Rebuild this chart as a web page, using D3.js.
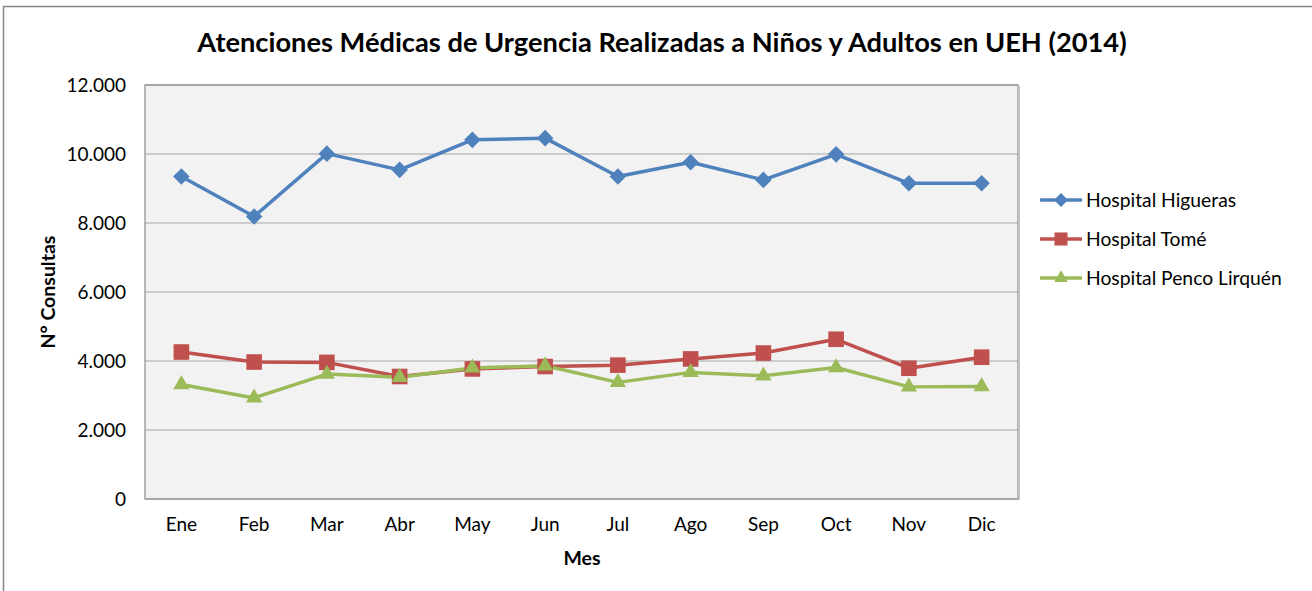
<!DOCTYPE html>
<html>
<head>
<meta charset="utf-8">
<script src="https://cdn.jsdelivr.net/npm/d3@7"></script>
<style>
  body { margin: 0; background: #fff; }
  svg { display: block; }
</style>
</head>
<body>
<div id="chart"></div>
<script>
// Data
const months = ["Ene", "Feb", "Mar", "Abr", "May", "Jun", "Jul", "Ago", "Sep", "Oct", "Nov", "Dic"];
const higueras = [9350, 8190, 10010, 9540, 10410, 10460, 9350, 9760, 9250, 9990, 9150, 9150];
const tome = [4260, 3970, 3960, 3550, 3770, 3840, 3880, 4060, 4230, 4630, 3790, 4110];
const penco = [3320, 2930, 3620, 3530, 3800, 3860, 3380, 3670, 3570, 3810, 3250, 3260];
const yTicks = [0, 2000, 4000, 6000, 8000, 10000, 12000];

const series = [
  { name: "Hospital Higueras", values: higueras, color: "#4F81BD", symbol: d3.symbolDiamond2, size: 175 },
  { name: "Hospital Tomé", values: tome, color: "#C0504D", symbol: d3.symbolSquare2, size: 310 },
  { name: "Hospital Penco Lirquén", values: penco, color: "#9BBB59", symbol: d3.symbolTriangle2, size: 190 }
];

const width = 1312, height = 591;
const plot = { left: 145, top: 85, right: 1018, bottom: 499 };
const font = "Lato, 'Open Sans', sans-serif";

const svg = d3.select("#chart").append("svg")
  .attr("width", width)
  .attr("height", height);

// outer chart frame (runs off the right and bottom edges)
svg.append("rect")
  .attr("x", 3.5).attr("y", 6.5)
  .attr("width", width + 20).attr("height", height + 20)
  .attr("fill", "#fff")
  .attr("stroke", "#868686")
  .attr("stroke-width", 1.5);

const x = d3.scaleBand().domain(months).range([plot.left, plot.right]);
const y = d3.scaleLinear().domain([0, 12000]).range([plot.bottom, plot.top]);
const fmt = v => d3.format(",")(v).replace(/,/g, ".");

// plot background
svg.append("rect")
  .attr("x", plot.left).attr("y", plot.top)
  .attr("width", plot.right - plot.left).attr("height", plot.bottom - plot.top)
  .attr("fill", "#F2F2F2");

// gridlines
svg.append("g")
  .selectAll("line")
  .data(yTicks)
  .join("line")
  .attr("x1", plot.left).attr("x2", plot.right)
  .attr("y1", d => y(d)).attr("y2", d => y(d))
  .attr("stroke", "#A6A6A6")
  .attr("stroke-width", 1.2);

// plot border
svg.append("rect")
  .attr("x", plot.left).attr("y", plot.top)
  .attr("width", plot.right - plot.left).attr("height", plot.bottom - plot.top)
  .attr("fill", "none")
  .attr("stroke", "#8C8C8C")
  .attr("stroke-width", 1.2);
svg.append("line")
  .attr("x1", plot.right + 1.2).attr("x2", plot.right + 1.2)
  .attr("y1", plot.top + 1).attr("y2", plot.bottom + 1)
  .attr("stroke", "#BFBFBF").attr("stroke-width", 1.5);

// y axis labels
svg.append("g")
  .attr("transform", `translate(${plot.left - 19},0)`)
  .call(d3.axisLeft(y).tickValues(yTicks).tickFormat(fmt).tickSize(0).tickPadding(0))
  .call(g => g.select(".domain").remove())
  .selectAll("text")
  .attr("font-family", font)
  .attr("font-size", 19)
  .attr("fill", "#000");

// x axis labels
svg.append("g")
  .attr("transform", `translate(0,${plot.bottom})`)
  .call(d3.axisBottom(x).tickSize(0).tickPadding(19))
  .call(g => g.select(".domain").remove())
  .selectAll("text")
  .attr("font-family", font)
  .attr("font-size", 19)
  .attr("fill", "#000");

// lines + markers
const line = d3.line()
  .x((d, i) => x(months[i]) + x.bandwidth() / 2)
  .y(d => y(d));

series.forEach(s => {
  svg.append("path")
    .datum(s.values)
    .attr("d", line)
    .attr("fill", "none")
    .attr("stroke", s.color)
    .attr("stroke-width", 3.5)
    .attr("stroke-linejoin", "round");
});

series.forEach(s => {
  svg.append("g")
    .selectAll("path")
    .data(s.values)
    .join("path")
    .attr("transform", (d, i) => `translate(${x(months[i]) + x.bandwidth() / 2},${y(d)})`)
    .attr("d", d3.symbol().type(s.symbol).size(s.size))
    .attr("fill", s.color);
});

// legend
const legend = svg.append("g").attr("transform", "translate(1040,200)");
series.forEach((s, i) => {
  const row = legend.append("g").attr("transform", `translate(0,${i * 39})`);
  row.append("line")
    .attr("x1", 0).attr("x2", 42)
    .attr("stroke", s.color).attr("stroke-width", 3.5);
  row.append("path")
    .attr("transform", "translate(21,0)")
    .attr("d", d3.symbol().type(s.symbol).size(s.size * 0.7))
    .attr("fill", s.color);
  row.append("text")
    .attr("x", 46).attr("dy", "0.35em")
    .attr("font-family", font)
    .attr("font-size", 19.3)
    .attr("fill", "#000")
    .text(s.name);
});

// title, fitted to the reference width
const title = svg.append("text")
  .attr("x", 662).attr("y", 52)
  .attr("text-anchor", "middle")
  .attr("font-family", font)
  .attr("font-weight", "bold")
  .attr("font-size", 25)
  .attr("fill", "#000")
  .text("Atenciones Médicas de Urgencia Realizadas a Niños y Adultos en UEH (2014)");
const tw = title.node().getComputedTextLength();
title.attr("font-size", 25 * 930 / tw);

// axis titles
svg.append("text")
  .attr("transform", "translate(55,292) rotate(-90)")
  .attr("text-anchor", "middle")
  .attr("font-family", font)
  .attr("font-weight", "bold")
  .attr("font-size", 19.5)
  .attr("fill", "#000")
  .text("N° Consultas");

svg.append("text")
  .attr("x", 582).attr("y", 565)
  .attr("text-anchor", "middle")
  .attr("font-family", font)
  .attr("font-weight", "bold")
  .attr("font-size", 19.5)
  .attr("fill", "#000")
  .text("Mes");
</script>
</body>
</html>
